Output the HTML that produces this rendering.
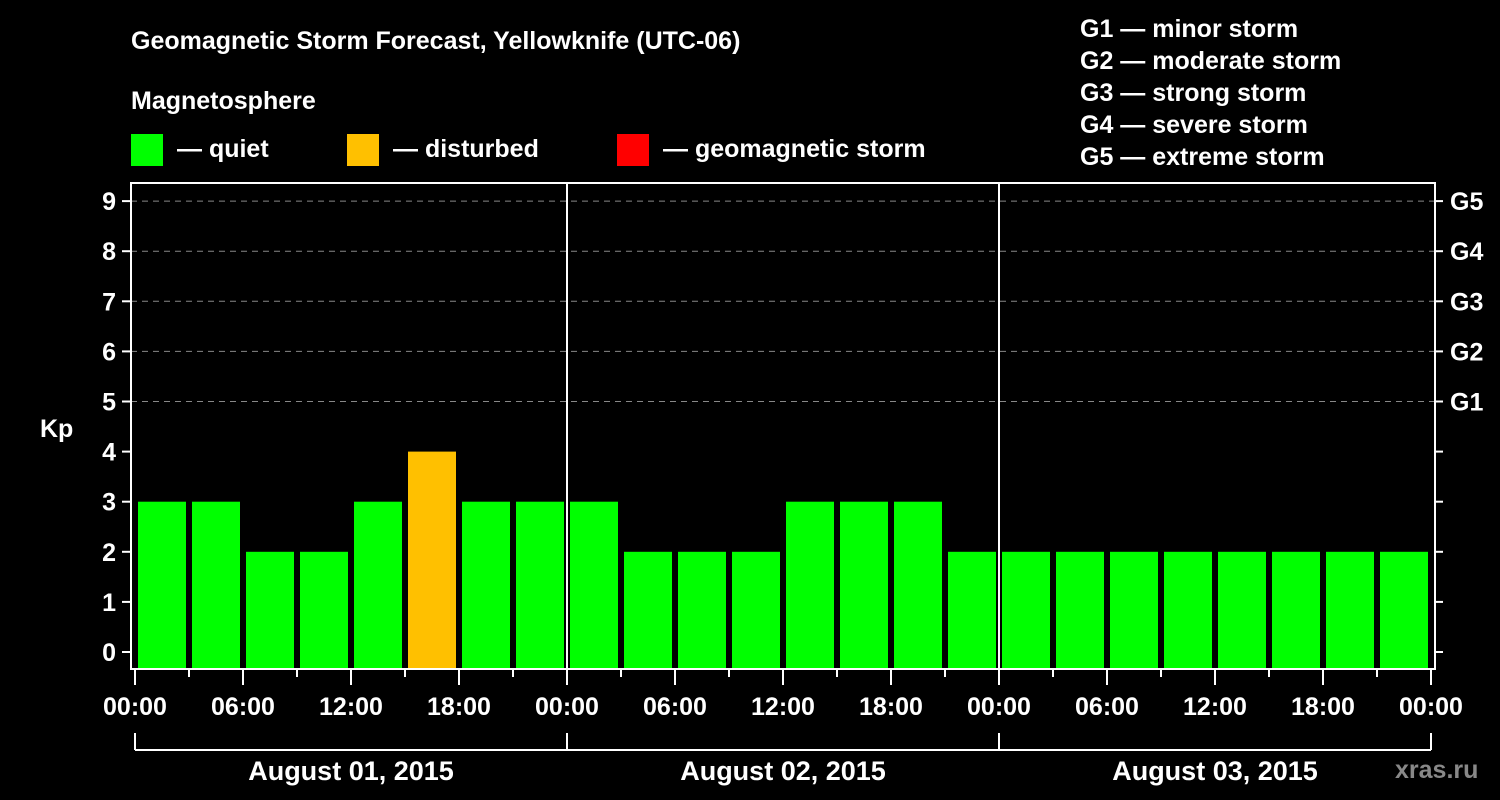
<!DOCTYPE html>
<html><head><meta charset="utf-8"><style>
body{margin:0;background:#000;}
svg{display:block;font-family:"Liberation Sans",sans-serif;font-weight:bold;}
</style></head><body>
<svg id="c" width="1500" height="800" viewBox="0 0 1500 800">
<rect width="1500" height="800" fill="#000"/>
<g id="hdr" fill="#fff" font-size="25">
<text x="131" y="49">Geomagnetic Storm Forecast, Yellowknife (UTC-06)</text>
<text x="131" y="109">Magnetosphere</text>
<rect x="131" y="134" width="32" height="32" fill="#00ff00"/>
<text x="177" y="157">— quiet</text>
<rect x="347" y="134" width="32" height="32" fill="#ffc000"/>
<text x="393" y="157">— disturbed</text>
<rect x="617" y="134" width="32" height="32" fill="#ff0000"/>
<text x="663" y="157">— geomagnetic storm</text>
<text x="1080" y="37">G1 — minor storm</text>
<text x="1080" y="69">G2 — moderate storm</text>
<text x="1080" y="101">G3 — strong storm</text>
<text x="1080" y="133">G4 — severe storm</text>
<text x="1080" y="165">G5 — extreme storm</text>
<text x="40" y="437">Kp</text>
<text x="1395" y="778" fill="#888">xras.ru</text>
</g>
<g id="plot"></g>
</svg>
<script>
const days=["August 01, 2015","August 02, 2015","August 03, 2015"];
const kp=[3,3,2,2,3,4,3,3, 3,2,2,2,3,3,3,2, 2,2,2,2,2,2,2,2];
const yTicks=[0,1,2,3,4,5,6,7,8,9];
const gLabels=["G1","G2","G3","G4","G5"];
const hourLabels=["00:00","06:00","12:00","18:00"];
const NS="http://www.w3.org/2000/svg";
const g=document.getElementById('plot');
const X0=135,DAYW=432,L=131,R=1435,T=183,B=669;
const y=v=>652-v*50.1;
const x=i=>X0+i*DAYW/8;
function mk(t,a){const e=document.createElementNS(NS,t);for(const k in a)e.setAttribute(k,a[k]);g.appendChild(e);return e;}
// grid
for(let v=5;v<=9;v++){const e=mk('line',{x1:L,x2:R,y1:y(v),y2:y(v),stroke:'#888','stroke-dasharray':'6 5','stroke-width':1});

}
// bars
kp.forEach((v,i)=>{const c=v>=5?'#ff0000':v>=4?'#ffc000':'#00ff00';
const e=mk('rect',{x:x(i)+3,y:y(v),width:48,height:B-y(v),fill:c});

});
// frame
const f=mk('rect',{x:L,y:T,width:R-L,height:B-T,fill:'none',stroke:'#fff','stroke-width':2});


for(let d=1;d<3;d++){const e=mk('line',{x1:x(d*8),x2:x(d*8),y1:T,y2:B,stroke:'#fff','stroke-width':2});

}
// y ticks
yTicks.forEach(v=>{mk('line',{x1:122,x2:L,y1:y(v),y2:y(v),stroke:'#fff','stroke-width':2});
mk('line',{x1:R,x2:1443,y1:y(v),y2:y(v),stroke:'#fff','stroke-width':2});
const t=mk('text',{x:116,y:y(v)+9,'text-anchor':'end',fill:'#fff','font-size':25});t.textContent=v;

});
gLabels.forEach((s,i)=>{const t=mk('text',{x:1450,y:y(5+i)+9,fill:'#fff','font-size':25});t.textContent=s;

});
// x ticks
for(let i=0;i<=24;i++){const long=i%2==0;
mk('line',{x1:x(i),x2:x(i),y1:B,y2:B+(long?16:8),stroke:'#fff','stroke-width':2});
if(long){const t=mk('text',{x:x(i),y:715,'text-anchor':'middle',fill:'#fff','font-size':25});
t.textContent=hourLabels[(i/2)%4];

}}
// day brackets
days.forEach((d,k)=>{const a=x(k*8),b=x(k*8+8);
mk('line',{x1:a,x2:b,y1:750,y2:750,stroke:'#fff','stroke-width':2});
mk('line',{x1:a,x2:a,y1:733,y2:750,stroke:'#fff','stroke-width':2});
mk('line',{x1:b,x2:b,y1:733,y2:750,stroke:'#fff','stroke-width':2});
const t=mk('text',{x:(a+b)/2,y:780,'text-anchor':'middle',fill:'#fff','font-size':27});t.textContent=d;

});
</script>
</body></html>
